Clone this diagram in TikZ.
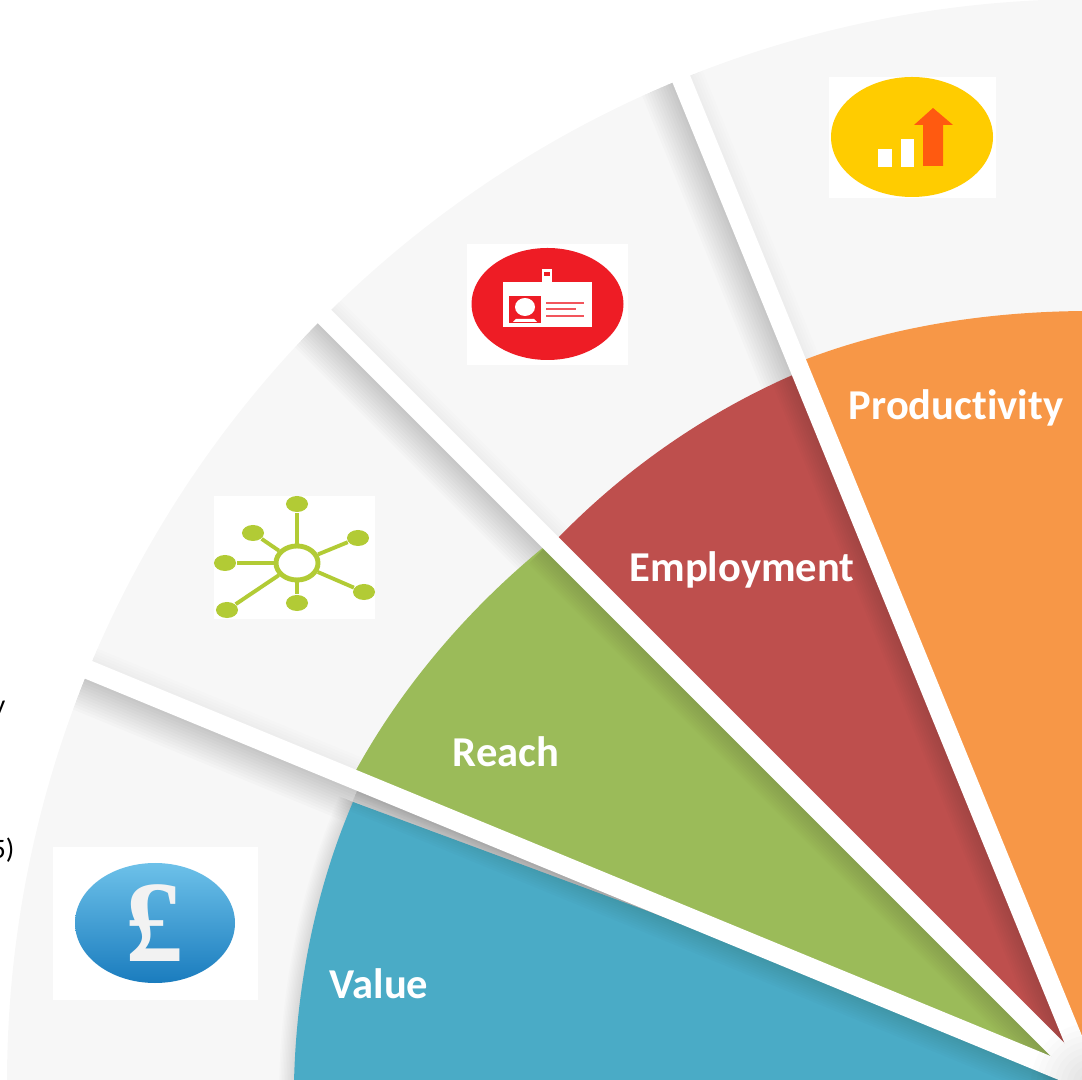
\documentclass[tikz,border=0pt]{standalone}
\usepackage{fontspec}
\setmainfont{Carlito}[Ligatures=NoCommon]
\newfontfamily\iconfont{Liberation Serif}
\usetikzlibrary{shapes.geometric}
\definecolor{fangray}{HTML}{F7F7F7}
\definecolor{valueblue}{HTML}{4AABC6}
\definecolor{reachgreen}{HTML}{9BBB59}
\definecolor{jobred}{HTML}{BE4F4D}
\definecolor{prodorange}{HTML}{F79747}
\definecolor{hublime}{HTML}{B2CB35}
\definecolor{badgered}{HTML}{EE1C25}
\definecolor{coinyellow}{HTML}{FFCC00}
\definecolor{arroworange}{HTML}{FF5A10}
\definecolor{poundlight}{HTML}{6DC1E9}
\definecolor{pounddark}{HTML}{1A7CBE}
\tikzset{
  sectorlabel/.style={text=white,font=\fontsize{12.1}{14}\selectfont\bfseries,anchor=base},
  sidetext/.style={text=black,inner sep=0pt,font=\fontsize{8}{9}\selectfont,anchor=base east},
  hubleaf/.style={ellipse,fill=hublime,inner sep=0pt,minimum width=0.22cm,minimum height=0.16cm},
  hubring/.style={ellipse,draw=hublime,line width=1.4pt,fill=white,inner sep=0pt,minimum width=0.42cm,minimum height=0.34cm}
}
\begin{document}
\begin{tikzpicture}[x=0.01cm,y=-0.01cm]
\newcommand{\fanshadow}[2]{
  \begin{scope}[shift={(apex)},rotate=#1,y=0.01cm]
  \foreach \k in {1,...,12}
    \fill [black,opacity=#2] (0,9) rectangle (1120,9+\k*2.8);
  \foreach \k in {1,...,5}
    \fill [black,opacity=0.008] (0,-9) rectangle (1120,-9-\k*2.8);
  \end{scope}}
\newcommand{\sectorshadow}[2]{
  \begin{scope}[shift={(apex)},rotate=#1,y=0.01cm]
  \foreach \k in {1,...,10}
    \fill [black,opacity=0.012] (0,9) rectangle (#2,9+\k*2.2);
  \end{scope}}
\newcommand{\whiteband}[1]{
  \begin{scope}[shift={(apex)},rotate=#1,y=0.01cm]
  \fill [white] (0,-9.5) rectangle (1120,9.5);
  \end{scope}}
\clip (0,0) rectangle (1082,1080);
\coordinate (apex) at (1091,1083);

% text cut off by the left edge
\node [sidetext] (sidey) at (6,715) {y};
\node [sidetext] (sidefive) at (15,858) {5)};

% fan, its shadows and the sectors
\fill [fangray] (apex) circle (1084);
\begin{scope}
\clip (apex) circle (1084);
\fanshadow{157.6}{0.016}
\fanshadow{135}{0.014}
\fanshadow{112.2}{0.014}
\end{scope}
\foreach \k in {1,...,10}
  \draw [black,opacity=0.012,line width=\k*0.85pt] (294,1083) .. controls (296,989) and (315,890) .. (353,802);
\fill [valueblue] (294,1083) .. controls (296,989) and (315,890) .. (353,802)--(650,912)--(apex)--cycle;
\fill [reachgreen] (apex)--(355,772) .. controls (402,686) and (469,608) .. (545,546)--cycle;
\fill [jobred] (apex)--(558,538) .. controls (624,470) and (705,413) .. (795,374)--cycle;
\fill [prodorange] (apex)--(804,360) .. controls (895,325) and (994,311) .. (1091,311)--cycle;

% bands between the sectors
\sectorshadow{157.6}{790}
\sectorshadow{135}{765}
\sectorshadow{112.2}{768}
\whiteband{157.6}
\whiteband{135}
\whiteband{112.2}
\foreach \k in {1,...,10}
  \fill [black,opacity=0.012] (apex) circle (\k*6);

% sector labels
\node [sectorlabel] (value) at (379,998) {Value};
\node [sectorlabel] (reach) at (506,767) {Reach};
\node [sectorlabel] (employment) at (742,582) {Employment};
\node [sectorlabel] (productivity) at (956,420) {Productivity};

% pound icon
\fill [white] (53,847) rectangle (258,1000);
\shade [top color=poundlight,bottom color=pounddark] (155,923) ellipse [x radius=80,y radius=60];
\node [text=white!95!black,font=\iconfont\fontsize{33}{36}\selectfont\bfseries] (pound) at (155,923) {£};

% network icon
\fill [white] (214,496) rectangle (375,619);
\node [hubleaf] (leaftop) at (297,504) {};
\node [hubleaf] (leafupleft) at (253,533) {};
\node [hubleaf] (leafupright) at (358,538) {};
\node [hubleaf] (leafleft) at (225,563) {};
\node [hubleaf] (leaflowleft) at (227,610) {};
\node [hubleaf] (leafbottom) at (297,603) {};
\node [hubleaf] (leaflowright) at (364,592) {};
\node [hubring] (hub) at (297,563) {};
\foreach \leaf in {leaftop,leafupleft,leafupright,leafleft,leaflowleft,leafbottom,leaflowright}
  \draw [hublime,line width=1.1pt] (hub)--(\leaf);

% badge icon
\fill [white] (467,244) rectangle (628,365);
\fill [badgered] (547.5,304) ellipse [x radius=76,y radius=56];
\fill [white] (503,282) rectangle (592,327);
\fill [white] (542,269) rectangle (552,287);
\fill [badgered] (543.5,272) rectangle (550,276.5);
\fill [badgered] (509,296) rectangle (541,323);
\fill [white] (525,307) ellipse [x radius=10,y radius=9];
\fill [white] (513,322)--(516,319)--(534,319)--(537,322)--cycle;
\draw [badgered!75!white,line width=0.4pt] (546,303)--(584,303);
\draw [badgered!75!white,line width=0.4pt] (546,309)--(576,309);
\draw [badgered!75!white,line width=0.4pt] (546,316)--(584,316);

% rising bars icon
\fill [white] (829,77) rectangle (996,198);
\fill [coinyellow] (912,137) ellipse [x radius=81,y radius=60];
\fill [white] (878,149) rectangle (892,167);
\fill [white] (901,139) rectangle (914,167);
\fill [arroworange] (933,108)--(953,125)--(943,125)--(943,166)--(923,166)--(923,125)--(914,125)--cycle;
\end{tikzpicture}
\end{document}
